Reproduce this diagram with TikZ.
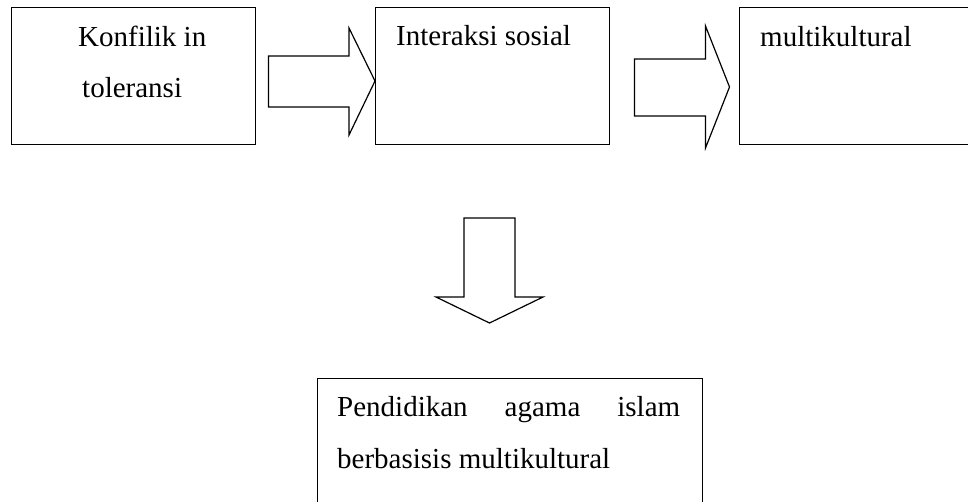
\documentclass[tikz,border=0pt]{standalone}
\usepackage{fontspec}
\setmainfont{Liberation Serif}
\begin{document}
\begin{tikzpicture}[x=1pt,y=-1pt,
  box/.style={draw, line width=1.4pt, rectangle, inner sep=0pt, anchor=north west},
  lbl/.style={anchor=base west, inner sep=0pt, font=\fontsize{29}{34}\selectfont},
  blockarrow/.style={draw, line width=1.2pt, line join=miter}]
\useasboundingbox (0,0) rectangle (968,501);
\node[box, minimum width=244.5pt, minimum height=137pt] (b1) at (10.5,7) {};
\node[box, minimum width=234pt, minimum height=137pt] (b2) at (375,7) {};
\node[box, minimum width=240pt, minimum height=137pt] (b3) at (739,7) {};
\node[box, minimum width=385pt, minimum height=140pt] (b4) at (317,378) {};
\node[lbl] (t1) at (78,46) {Konfilik in};
\node[lbl] (t1b) at (82,97) {toleransi};
\node[lbl] (t2) at (396,45.5) {Interaksi sosial};
\node[lbl] (t3) at (760,46) {multikultural};
\node[lbl] (t4a) at (337,416) {\hbox to 343pt{Pendidikan\hfill agama\hfill islam}};
\node[lbl] (t4b) at (337,468) {berbasisis multikultural};
\draw[blockarrow] (268.5,56) -- (349,56) -- (349,28) -- (375,81) -- (349,135) -- (349,107) -- (268.5,107) -- cycle;
\draw[blockarrow] (634.5,59) -- (705.5,59) -- (705.5,26) -- (729.5,87) -- (705.5,148) -- (705.5,116) -- (634.5,116) -- cycle;
\draw[blockarrow] (464,218) -- (515,218) -- (515,297) -- (543,297) -- (489.5,323) -- (436,297) -- (464,297) -- cycle;
\end{tikzpicture}
\end{document}
